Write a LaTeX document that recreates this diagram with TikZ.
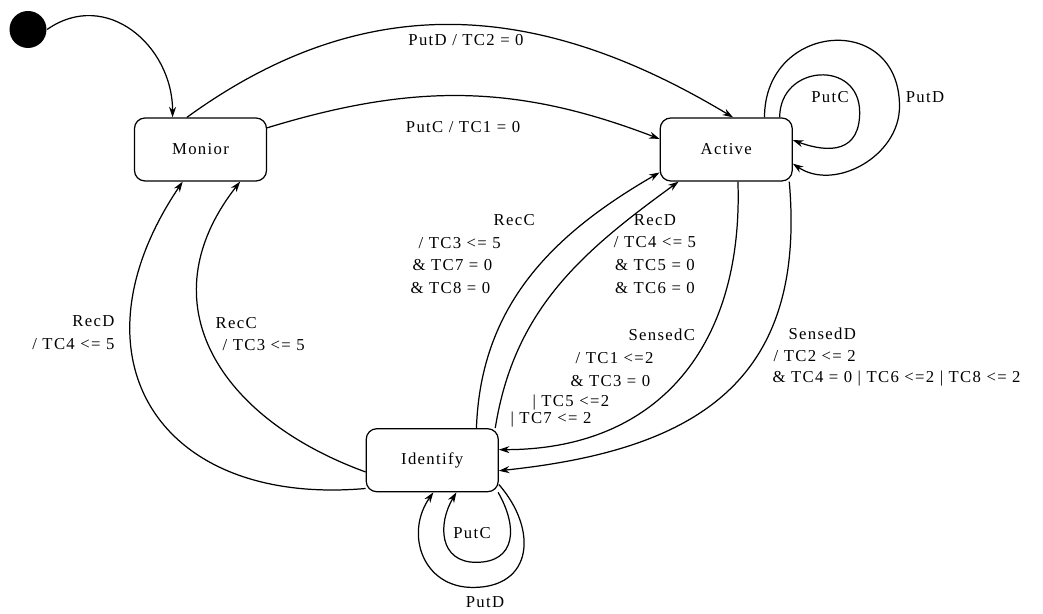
\documentclass[tikz,border=0pt]{standalone}
\usepackage{fontspec}
\setmainfont{Liberation Serif}[LetterSpace=8]
\usetikzlibrary{positioning, arrows.meta}

\begin{document}
\begin{tikzpicture}[
  font=\fontsize{9.5}{13}\selectfont,
  line width=0.7pt,
  state/.style={draw, rounded corners=6pt, minimum width=2.64cm,
    minimum height=1.26cm, align=center},
  initst/.style={circle, fill=black, minimum size=0.74cm, inner sep=0pt},
  lbl/.style={inner sep=0pt, align=left},
  arr/.style={-{Stealth[length=6pt,width=4pt]}},
]
  \useasboundingbox (0,0) rectangle (20.86,12.28);

  % States
  \node[initst] (init) at (0.56,11.69) {};
  \node[state] (mon) at (4.01,9.29) {Monior};
  \node[state, right=7.85cm of mon] (act) {Active};
  \node[state, below right=4.93cm and 1.97cm of mon] (idf) {Identify};

  % Labels
  \node[lbl] (lputd)  at (9.32,11.47) {PutD / TC2 = 0};
  \node[lbl] (lputc)  at (9.26,9.74)  {PutC / TC1 = 0};
  \node[lbl] (laputc) at (16.6,10.34) {PutC};
  \node[lbl] (laputd) at (18.5,10.34) {PutD};
  \node[lbl] (liputc) at (9.44,1.62)  {PutC};
  \node[lbl] (liputd) at (9.70,0.24)  {PutD};
  \node[lbl, align=right, anchor=east] (lmrecd) at (2.3,5.62)
    {RecD\\/ TC4 <= 5};
  \node[lbl, anchor=west] (lmrecc) at (4.3,5.60)
    {RecC\\\hspace*{0.14cm}/ TC3 <= 5};
  \node[lbl, anchor=west] (larecc) at (8.2,7.20)
    {\hspace*{1.66cm}RecC\\\hspace*{0.16cm}/ TC3 <= 5\\
     \hspace*{0.04cm}\& TC7 = 0\\\& TC8 = 0};
  \node[lbl, align=center] (larecd) at (13.1,7.20)
    {RecD\\/ TC4 <= 5\\\& TC5 = 0\\\& TC6 = 0};
  \node[lbl, anchor=west] (lsensc) at (10.2,4.72)
    {\hspace*{2.36cm}SensedC\\\hspace*{1.3cm}/ TC1 <=2\\
     \hspace*{1.2cm}\& TC3 = 0\\[-1.5pt]\hspace*{0.44cm}| TC5 <=2\\[-3.5pt]
     | TC7 <= 2};
  \node[lbl, anchor=west] (lsensd) at (15.44,5.14)
    {\hspace*{0.32cm}SensedD\\\hspace*{0.02cm}/ TC2 <= 2\\[-1pt]
     \& TC4 = 0 | TC6 <=2 | TC8 <= 2};

  % Transitions
  \foreach \a/\b/\o/\i/\l in {init.0/mon.131/35/90/1.2,
                              mon.113/act.78/36/149/1.05,
                              mon.18/act.171/17/159/1,
                              idf.203/mon.-119/185/236/1.5,
                              idf.190/mon.-39/160/232/1.25,
                              idf.36/act.199/88/210/1,
                              idf.27/act.214/81/216/1,
                              act.-70/idf.9/-88/0/1.15,
                              act.-27/idf.-9/-85/6/1.25}
    \draw[arr] (\a) to[out=\o, in=\i, looseness=\l] (\b);

  % Self loops
  \draw[arr] (act.31) to[out=90, in=90, looseness=1.7] ++(1.6,0.1)
    to[out=-90, in=-20, looseness=1.4] (act.8);
  \draw[arr] (act.40) to[out=90, in=90, looseness=1.8] ++(2.7,0.22)
    to[out=-90, in=-34, looseness=1.06] (act.-12);
  \draw[arr] (idf.-26) to[out=-60, in=0, looseness=1.4] ++(-0.44,-1.4)
    to[out=180, in=239, looseness=1.3] (idf.-53);
  \draw[arr] (idf.-20) to[out=-49, in=0, looseness=1.45] ++(-0.52,-2.06)
    to[out=180, in=235, looseness=1.25] (idf.-88);
\end{tikzpicture}
\end{document}
